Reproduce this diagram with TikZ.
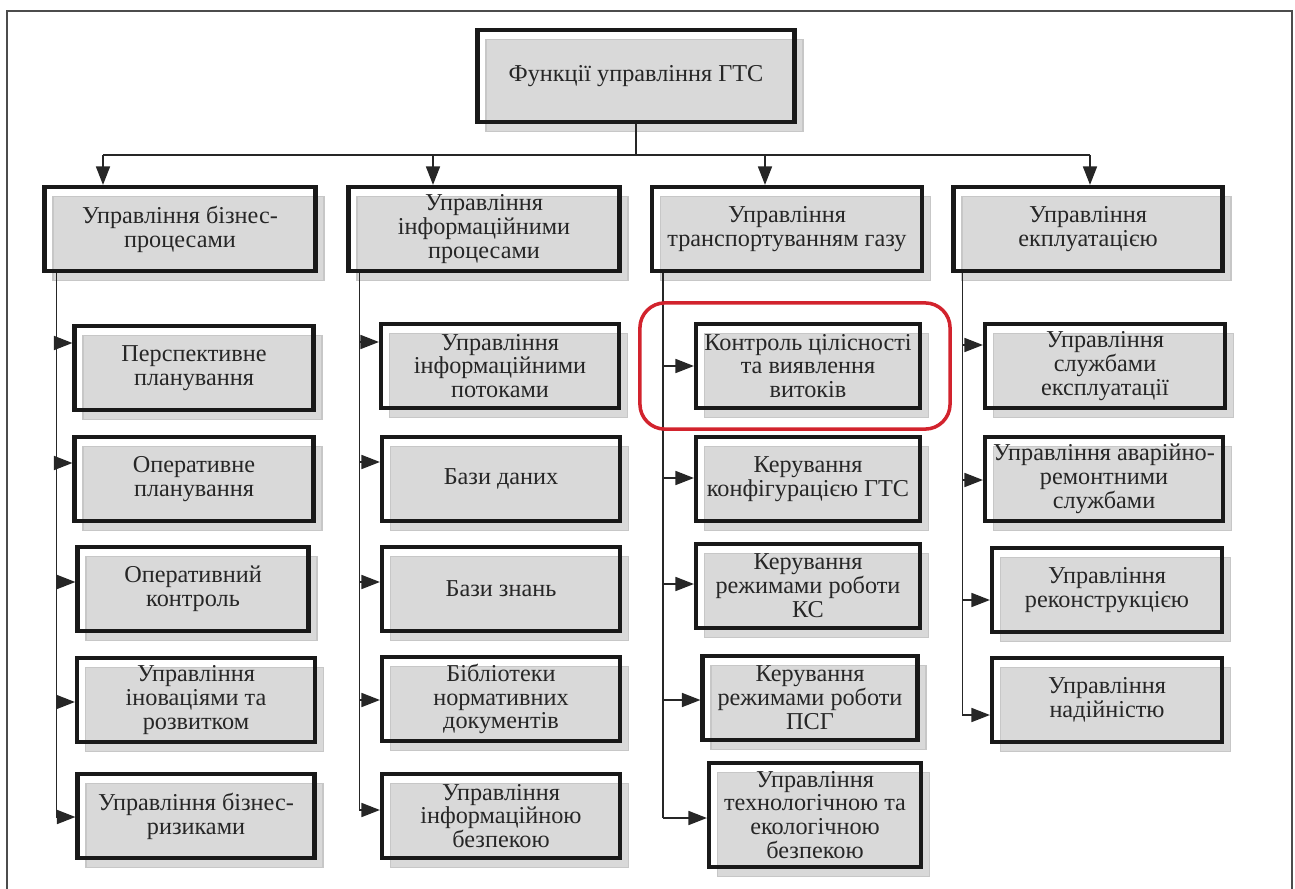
\documentclass[tikz,border=0pt]{standalone}
\usepackage{fontspec}
\setmainfont{Liberation Serif}
\usepackage{tikz}
\usepackage{xcolor}
\usetikzlibrary{arrows.meta, positioning, shadows, calc}
\definecolor{hlred}{RGB}{210,35,45}

\begin{document}
\begin{tikzpicture}[x=0.02cm, y=-0.02cm,
    box/.style={draw=black!90, line width=2.4pt, align=center, inner sep=1pt,
        minimum height=1.68cm, text=black!85,
        font=\fontsize{13.8}{13.6}\selectfont,
        general shadow={fill=black!15, draw=black!22, line width=0.8pt,
            shadow xshift=0.17cm, shadow yshift=-0.19cm}},
    link/.style={line width=0.8pt, draw=black!85},
    arr/.style={link, -{Triangle[length=10.5pt, width=8pt]}}]
    \useasboundingbox (0,0) rectangle (1295,889);
    \clip (0,0) rectangle (1295,889);

    % Frame (open at the bottom)
    \draw[line width=1.2pt, black!70] (7,900) -- (7,11) -- (1292,11) -- (1292,900);

    % Root
    \node[box, minimum width=6.34cm, minimum height=1.84cm] (top) at (636,76) {Функції управління ГТС};

    % Second level
    \node[box, minimum width=5.42cm] (c1) at (180,229) {Управління бізнес-\\процесами};
    \node[box, minimum width=5.42cm] (c2) at (484,229) {Управління\\інформаційними\\процесами};
    \node[box, minimum width=5.40cm] (c3) at (787,229) {Управління\\транспортуванням газу};
    \node[box, minimum width=5.38cm] (c4) at (1088,229) {Управління\\екплуатацією};

    % Column 1
    \node[box, minimum width=4.78cm] (p1) at (194,368) {Перспективне\\планування};
    \node[box, minimum width=4.78cm] (p2) at (194,479) {Оперативне\\планування};
    \node[box, minimum width=4.62cm] (p3) at (193,589) {Оперативний\\контроль};
    \node[box, minimum width=4.76cm] (p4) at (196,700) {Управління\\іноваціями та\\розвитком};
    \node[box, minimum width=4.74cm] (p5) at (196,816) {Управління бізнес-\\ризиками};

    % Column 2
    \node[box, minimum width=4.76cm] (i1) at (500,366) {Управління\\інформаційними\\потоками};
    \node[box, minimum width=4.76cm] (i2) at (501,479) {Бази даних};
    \node[box, minimum width=4.76cm] (i3) at (501,589) {Бази знань};
    \node[box, minimum width=4.76cm] (i4) at (501,699) {Бібліотеки\\нормативних\\документів};
    \node[box, minimum width=4.76cm] (i5) at (501,816) {Управління\\інформаційною\\безпекою};

    % Column 3
    \node[box, minimum width=4.48cm] (t1) at (808,366) {Контроль цілісності\\та виявлення\\витоків};
    \node[box, minimum width=4.48cm] (t2) at (808,479) {Керування\\конфігурацією ГТС};
    \node[box, minimum width=4.48cm] (t3) at (808,586) {Керування\\режимами роботи\\КС};
    \node[box, minimum width=4.30cm] (t4) at (810,698) {Керування\\режимами роботи\\ПСГ};
    \node[box, minimum width=4.24cm, minimum height=2.08cm] (t5) at (815,815) {Управління\\технологічною та\\екологічною\\безпекою};

    % Column 4
    \node[box, minimum width=4.80cm] (e1) at (1105,366) {Управління\\службами\\експлуатації};
    \node[box, minimum width=4.76cm] (e2) at (1104,479) {Управління аварійно-\\ремонтними\\службами};
    \node[box, minimum width=4.60cm] (e3) at (1107,590) {Управління\\реконструкцією};
    \node[box, minimum width=4.60cm] (e4) at (1107,700) {Управління\\надійністю};

    % Bus from the root
    \coordinate (b1) at (103,155);
    \coordinate (b2) at (433,155);
    \coordinate (b3) at (765,155);
    \coordinate (b4) at (1090,155);
    \draw[link] (top.south) -- (top.south |- b1);
    \draw[link] (b1) -- (b4);
    \foreach \b/\c in {b1/c1, b2/c2, b3/c3, b4/c4} {
        \draw[arr] (\b) -- (\b |- \c.north);
    }

    % Trunks under the second level
    \coordinate (l1) at ($(c1.south west)+(14,0)$);
    \coordinate (l2) at ($(c2.south west)+(13,0)$);
    \coordinate (l3) at ($(c3.south west)+(13,0)$);
    \coordinate (l4) at ($(c4.south west)+(11,0)$);
    \draw[link] (l1) -- (l1 |- 0,817);
    \draw[link] (l2) -- (l2 |- 0,810);
    \draw[link] (l3) -- (l3 |- 0,818);
    \draw[link] (l4) -- (l4 |- 0,715);

    % Branches
    \foreach \n/\y in {p1/343, p2/463, p3/582, p4/702, p5/817} {
        \draw[arr] (l1 |- 0,\y) -- (\n.west |- 0,\y);
    }
    \foreach \n/\y in {i1/342, i2/462, i3/582, i4/700, i5/810} {
        \draw[arr] (l2 |- 0,\y) -- (\n.west |- 0,\y);
    }
    \foreach \n/\y in {t1/366, t2/478, t3/584, t4/700, t5/818} {
        \draw[arr] (l3 |- 0,\y) -- (\n.west |- 0,\y);
    }
    \foreach \n/\y in {e1/345, e2/480, e3/600, e4/715} {
        \draw[arr] (l4 |- 0,\y) -- (\n.west |- 0,\y);
    }

    % Highlight
    \draw[hlred, line width=2pt, rounded corners=0.5cm]
        ($(t1.south west)+(-54,19)$) rectangle ($(t1.north east)+(28,-19)$);
\end{tikzpicture}
\end{document}
